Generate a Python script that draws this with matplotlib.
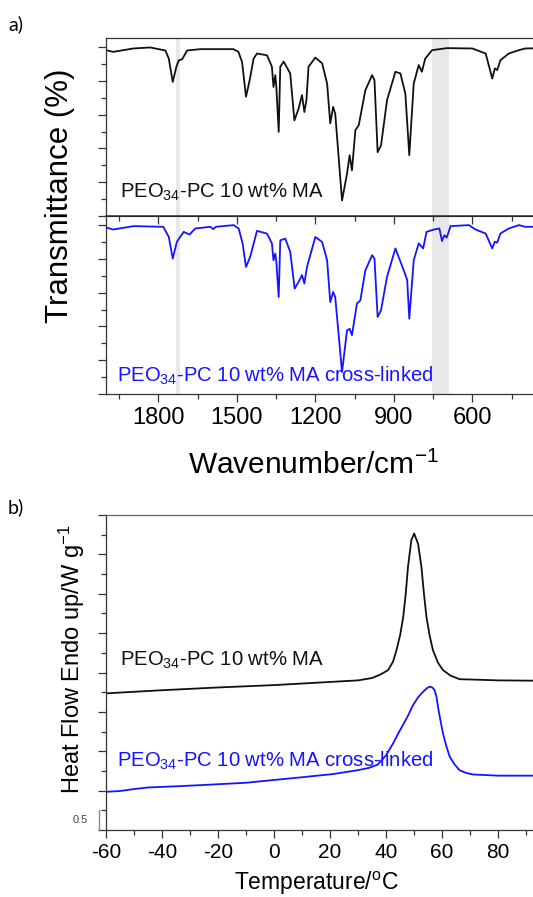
import matplotlib
matplotlib.use('Agg')
import matplotlib.pyplot as plt
from matplotlib.ticker import MultipleLocator
from matplotlib.transforms import blended_transform_factory

plt.rcParams['font.family'] = ['Liberation Sans', 'DejaVu Sans']
plt.rcParams['mathtext.fontset'] = 'custom'
plt.rcParams['mathtext.rm'] = 'Liberation Sans'
plt.rcParams['mathtext.default'] = 'regular'
plt.rcParams['axes.unicode_minus'] = False

### FTIR data ###
wn_ma = [2000, 1972, 1895, 1831, 1773, 1760, 1745, 1731, 1722, 1709,
         1690, 1640, 1513, 1494, 1480, 1465, 1451, 1436, 1423, 1385,
         1366, 1360, 1353, 1349, 1340, 1334, 1321, 1296, 1280, 1264,
         1251, 1242, 1234, 1226, 1200, 1174, 1155, 1143, 1132, 1124,
         1098, 1079, 1069, 1060, 1047, 1034, 1009, 983, 974, 962,
         949, 926, 894, 875, 856, 841, 824, 805, 793, 780,
         754, 697, 600, 549, 524, 514, 505, 493, 461, 422,
         398, 330]
tr_ma = [99.1, 98.6, 99.6, 99.9, 99.0, 96.6, 89.7, 94.2, 96.1, 96.4,
         99.0, 99.4, 99.4, 98.6, 95.6, 85.3, 90.2, 96.6, 98.1, 97.6,
         94.2, 88.2, 91.7, 88.2, 74.9, 94.2, 95.7, 92.2, 78.3, 81.8,
         85.8, 80.8, 84.3, 94.2, 96.9, 95.2, 89.2, 77.4, 82.3, 80.3,
         54.6, 62.5, 68.0, 63.5, 75.4, 76.9, 87.2, 91.7, 90.2, 68.9,
         70.9, 84.3, 92.7, 92.2, 86.2, 68.0, 89.2, 94.7, 92.7, 96.6,
         99.1, 99.7, 99.6, 98.1, 90.7, 93.7, 93.2, 96.1, 98.1, 99.1,
         99.6, 99.7]

wn_xl = [2000, 1972, 1895, 1781, 1760, 1745, 1729, 1703, 1681, 1659,
         1601, 1590, 1580, 1512, 1493, 1478, 1465, 1449, 1423, 1385,
         1366, 1360, 1353, 1349, 1340, 1334, 1315, 1296, 1279, 1264,
         1251, 1242, 1232, 1200, 1174, 1155, 1143, 1132, 1124, 1098,
         1079, 1069, 1060, 1041, 1028, 1009, 983, 974, 962, 949,
         926, 894, 862, 849, 841, 824, 805, 788, 775, 747,
         726, 716, 707, 698, 683, 613, 588, 549, 524, 514,
         505, 493, 461, 422, 398, 330]
tr_xl = [99.3, 98.7, 99.7, 99.5, 96.5, 90.1, 95.1, 98.0, 97.2, 99.0,
         99.5, 98.8, 99.5, 100.0, 99.0, 94.6, 87.6, 90.6, 98.3, 97.5,
         94.6, 89.6, 91.6, 89.1, 78.7, 95.5, 96.0, 92.1, 81.2, 83.2,
         85.2, 82.7, 87.6, 96.5, 95.0, 89.6, 77.2, 80.2, 78.7, 56.5,
         68.8, 69.3, 67.4, 76.8, 77.7, 86.6, 91.1, 90.1, 72.8, 74.8,
         84.7, 93.1, 86.6, 83.7, 72.3, 89.6, 94.6, 93.1, 98.0, 98.7,
         99.0, 95.3, 97.0, 96.3, 99.7, 100.0, 98.7, 97.5, 93.1, 95.1,
         94.8, 97.5, 99.0, 100.0, 99.5, 99.5]

bands = [(1733, 1716), (754, 691)]

### DSC data ###
t_ma = [-60, -40, -20, 0, 10, 20, 30, 35, 38, 40.7, 42.5, 43.7, 45, 46.1, 47,
        47.8, 49, 50, 51.4, 52.6, 53.5, 54.4, 55.5, 56.7, 58.5, 60.3, 63,
        66.2, 71, 80, 96]
hf_ma = [3.47, 3.55, 3.62, 3.68, 3.72, 3.76, 3.80, 3.86, 3.95, 4.06, 4.28,
         4.57, 4.95, 5.41, 6.0, 6.68, 7.36, 7.53, 7.27, 6.68, 6.0, 5.41, 4.95,
         4.57, 4.25, 4.06, 3.92, 3.83, 3.82, 3.80, 3.79]

t_xl = [-60, -55, -50, -45, -35, -26, -10, 0, 10, 21, 30, 34, 37, 40, 42.5,
        45, 47.5, 49.6, 51.5, 53.2, 54.5, 55.6, 56.5, 57.3, 58, 58.5, 59.4,
        60.3, 61.5, 62.7, 64.5, 66.2, 68.5, 71, 80, 96]
hf_xl = [0.97, 0.99, 1.04, 1.08, 1.11, 1.14, 1.20, 1.27, 1.34, 1.42, 1.52,
         1.58, 1.66, 1.90, 2.2, 2.54, 2.86, 3.17, 3.38, 3.51, 3.60, 3.64,
         3.62, 3.55, 3.38, 3.13, 2.78, 2.45, 2.13, 1.86, 1.66, 1.52, 1.45,
         1.41, 1.38, 1.38]

lbl_ma = 'PEO$_{34}$-PC 10 wt% MA'
lbl_xl = 'PEO$_{34}$-PC 10 wt% MA cross-linked'

W, H = 533, 897
fig = plt.figure(figsize=(W / 100, H / 100), dpi=100)


def box(x0, y0, x1, y1):
    # pixel box (top-left origin) -> figure fraction rect
    return [x0 / W, 1 - y1 / H, (x1 - x0) / W, (y1 - y0) / H]


spine_col = '#333333'
blue = '#1414ff'


def style(ax):
    for s in ax.spines.values():
        s.set_color(spine_col)
        s.set_linewidth(0.9)
    ax.tick_params(which='both', color=spine_col, width=0.9)
    ax.tick_params(which='major', length=6)
    ax.tick_params(which='minor', length=3.5)


ax1 = fig.add_axes(box(106, 38, 543, 216))
ax2 = fig.add_axes(box(106, 216, 543, 394))
for ax in (ax1, ax2):
    style(ax)
    ax.set_xlim(2000, 330)
    ax.set_ylim(50, 102.7)
    ax.yaxis.set_major_locator(MultipleLocator(10))
    ax.yaxis.set_minor_locator(MultipleLocator(5))
    ax.xaxis.set_major_locator(MultipleLocator(300))
    ax.xaxis.set_minor_locator(MultipleLocator(150))
    ax.tick_params(axis='y', which='both', direction='out', labelleft=False)
    for a, b in bands:
        ax.axvspan(a, b, color='#e8e8e8', lw=0, zorder=0)

ax1.plot(wn_ma, tr_ma, color='#111111', lw=1.3)
ax2.plot(wn_xl, tr_xl, color=blue, lw=1.3)
ax1.tick_params(axis='x', which='both', bottom=False, top=False, labelbottom=False)
ax2.tick_params(axis='x', which='both', bottom=True, top=False, direction='out',
                labelsize=17, pad=3)
ax2.spines['top'].set_linewidth(1.1)

# inward ticks on the separator line
ax2b = ax2.secondary_xaxis('top')
ax2b.xaxis.set_major_locator(MultipleLocator(300))
ax2b.xaxis.set_minor_locator(MultipleLocator(150))
ax2b.tick_params(which='both', direction='in', labeltop=False, color=spine_col, width=0.9)
ax2b.tick_params(which='major', length=6)
ax2b.tick_params(which='minor', length=3.5)

ax2.set_xlabel('Wavenumber/cm$^{-1}$', fontsize=21.5)
ax2.xaxis.set_label_coords((313 - 106) / 437, -0.32)

fig.text(60 / W, 1 - 196 / H, 'Transmittance (%)', rotation=90, fontsize=22.5,
         ha='center', va='center')

fig.text(120 / W, 1 - 198 / H, lbl_ma, fontsize=14.6, color='#111111', va='baseline')
fig.text(117 / W, 1 - 382 / H, lbl_xl, fontsize=14.6, color=blue, va='baseline')

### DSC ###
ax3 = fig.add_axes(box(106, 515, 543, 830))
style(ax3)
ax3.spines['top'].set_color('#666666')
ax3.set_xlim(-60, 96)
ax3.set_ylim(0, 8)
ax3.plot(t_ma, hf_ma, color='#111111', lw=1.3)
ax3.plot(t_xl, hf_xl, color=blue, lw=1.3)
ax3.xaxis.set_major_locator(MultipleLocator(20))
ax3.xaxis.set_minor_locator(MultipleLocator(10))
ax3.yaxis.set_major_locator(MultipleLocator(1))
ax3.yaxis.set_minor_locator(MultipleLocator(0.5))
ax3.tick_params(which='both', direction='out', labelleft=False)
ax3.tick_params(axis='x', labelsize=15, pad=3)
ax3.set_xlabel('Temperature/$^{o}$C', fontsize=16.5)
ax3.xaxis.set_label_coords((316 - 106) / 437, -0.125)

fig.text(72 / W, 1 - 659 / H, 'Heat Flow Endo up/W g$^{-1}$', rotation=90,
         fontsize=17, ha='center', va='center')
fig.text(120 / W, 1 - 666 / H, lbl_ma, fontsize=14.6, color='#111111', va='baseline')
fig.text(117 / W, 1 - 767 / H, lbl_xl, fontsize=14.6, color=blue, va='baseline')

# 0.5 scale bar
tr = blended_transform_factory(ax3.transAxes, ax3.transData)
ax3.plot([-7 / 437, -7 / 437], [0, 0.5], color='#888888', lw=1.0,
         transform=tr, clip_on=False)
ax3.text(-26 / 437, 0.25, '0.5', transform=tr, fontsize=8, color='#444444',
         ha='center', va='center')

fig.text(8 / W, 1 - 30 / H, 'a)', fontsize=14, family=['Lato', 'DejaVu Sans'],
         va='baseline')
fig.text(8 / W, 1 - 513 / H, 'b)', fontsize=14, family=['Lato', 'DejaVu Sans'],
         va='baseline')

fig.savefig('out.png', dpi=100)
